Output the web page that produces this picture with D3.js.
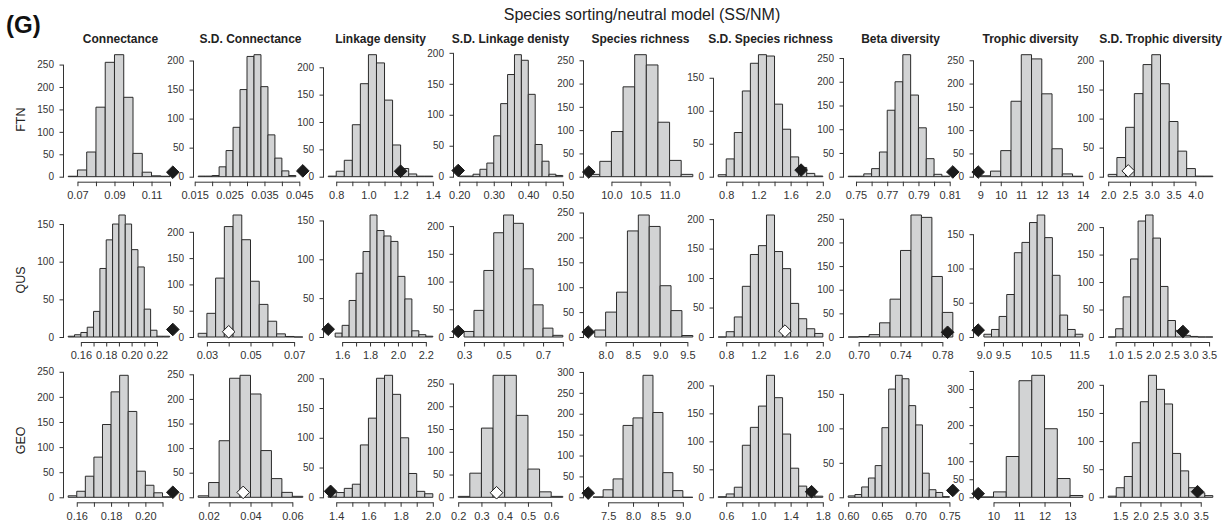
<!DOCTYPE html>
<html>
<head>
<meta charset="utf-8">
<script src="https://cdn.jsdelivr.net/npm/d3@7"></script>
<style>
  body { margin: 0; background: #fff; }
  svg { display: block; font-family: "Liberation Sans", Arial, sans-serif; }
</style>
</head>
<body>
<svg id="chart" width="1224" height="525"></svg>
<script>
// ---- chart values ----
var rowNames = ["FTN", "QUS", "GEO"];
var metricNames = ["Connectance", "S.D. Connectance", "Linkage density", "S.D. Linkage denisty",
    "Species richness", "S.D. Species richness", "Beta diversity", "Trophic diversity", "S.D. Trophic diversity"];

// first break and bin width of each null histogram (rows FTN, QUS, GEO)
var binStart = [
    [0.065, 0.016, 0.75, 0.20, 9.6, 0.7, 0.745, 9.0, 2.0],
    [0.150, 0.026, 1.55, 0.30, 7.8, 0.7, 0.69, 9.0, 0.8],
    [0.155, 0.015, 1.35, 0.20, 7.2, 0.5, 0.60, 9.5, 1.2]
];
var binWidth = [
    [0.005, 0.002, 0.05, 0.02, 0.2, 0.1, 0.005, 0.5, 0.2],
    [0.005, 0.004, 0.05, 0.05, 0.2, 0.1, 0.01, 0.2, 0.2],
    [0.005, 0.005, 0.05, 0.05, 0.2, 0.1, 0.01, 0.5, 0.2]
];

// simulated frequencies
var countsFTN = [
    [1, 15, 55, 155, 255, 272, 177, 52, 10, 2, 1],
    [1, 1, 2, 17, 45, 85, 150, 207, 210, 155, 72, 32, 10, 2],
    [1, 10, 30, 95, 170, 223, 208, 140, 58, 15, 5, 1, 1],
    [1, 1, 4, 12, 22, 66, 118, 165, 197, 188, 133, 52, 25, 4, 2],
    [5, 33, 97, 193, 262, 240, 117, 35, 5],
    [3, 27, 67, 130, 172, 185, 183, 110, 72, 30, 14, 5, 1],
    [1, 1, 6, 17, 52, 140, 200, 257, 172, 103, 38, 5, 1],
    [2, 12, 56, 162, 262, 253, 178, 60, 6, 1],
    [4, 33, 85, 143, 193, 210, 160, 95, 44, 14, 1, 1]
];
var countsQUS = [
    [1, 3, 6, 13, 34, 91, 129, 150, 162, 150, 116, 93, 37, 9, 1, 1],
    [7, 45, 112, 210, 232, 185, 106, 62, 30, 6, 1, 0],
    [5, 15, 47, 82, 110, 157, 137, 130, 123, 78, 49, 8, 3, 1],
    [10, 48, 120, 188, 220, 205, 123, 58, 16, 3],
    [14, 50, 90, 213, 245, 222, 103, 53, 3],
    [0, 9, 34, 86, 140, 155, 207, 145, 116, 57, 31, 14, 6],
    [0, 1, 5, 30, 80, 183, 258, 253, 128, 52],
    [4, 11, 30, 62, 123, 138, 167, 178, 145, 90, 32, 11, 4],
    [0, 15, 73, 142, 211, 222, 180, 92, 30, 12, 3, 1, 0, 0]
];
var countsGEO = [
    [3, 12, 42, 80, 145, 210, 243, 171, 52, 24, 9, 1],
    [3, 30, 115, 242, 248, 210, 95, 38, 10, 2],
    [2, 8, 15, 22, 88, 133, 200, 205, 173, 100, 40, 10, 6],
    [2, 53, 152, 268, 268, 180, 62, 12, 2],
    [1, 18, 44, 172, 190, 292, 203, 59, 16, 0],
    [1, 6, 18, 93, 125, 163, 218, 178, 113, 52, 20, 15, 2],
    [2, 4, 15, 28, 46, 101, 157, 177, 172, 133, 105, 35, 11, 7, 1],
    [1, 15, 113, 323, 338, 190, 52, 5],
    [2, 17, 37, 97, 170, 217, 192, 166, 78, 47, 17, 8, 3]
];

// observed metric of the real web, and whether it falls inside the null range (open symbol)
var observed = [
    [0.1215, 0.046, 1.2, 0.197, 9.61, 1.73, 0.812, 8.9, 2.46],
    [0.2325, 0.040, 1.50, 0.27, 7.68, 1.53, 0.785, 8.85, 2.8],
    [0.216, 0.0365, 1.365, 0.365, 7.1, 1.66, 0.755, 9.4, 3.42]
];
var observedOpen = [
    [false, false, false, false, false, false, false, false, true],
    [false, true, false, false, false, true, false, false, false],
    [false, true, false, true, false, false, false, false, false]
];

// x axis ticks and the tick labels that are printed
var xTicks = [
    [[0.07, 0.08, 0.09, 0.10, 0.11, 0.12], [0.015, 0.020, 0.025, 0.030, 0.035, 0.040, 0.045],
     [0.8, 0.9, 1.0, 1.1, 1.2, 1.3, 1.4], [0.20, 0.25, 0.30, 0.35, 0.40, 0.45, 0.50],
     [10.0, 10.5, 11.0], [0.8, 1.0, 1.2, 1.4, 1.6, 1.8, 2.0],
     [0.75, 0.76, 0.77, 0.78, 0.79, 0.80, 0.81], [9, 10, 11, 12, 13, 14], [2.0, 2.5, 3.0, 3.5, 4.0]],
    [[0.16, 0.17, 0.18, 0.19, 0.20, 0.21, 0.22], [0.03, 0.04, 0.05, 0.06, 0.07],
     [1.6, 1.7, 1.8, 1.9, 2.0, 2.1, 2.2], [0.3, 0.4, 0.5, 0.6, 0.7, 0.8],
     [8.0, 8.5, 9.0, 9.5], [0.8, 1.0, 1.2, 1.4, 1.6, 1.8, 2.0],
     [0.70, 0.72, 0.74, 0.76, 0.78], [9.0, 9.5, 10.0, 10.5, 11.0, 11.5], [1.0, 1.5, 2.0, 2.5, 3.0, 3.5]],
    [[0.16, 0.17, 0.18, 0.19, 0.20, 0.21], [0.02, 0.03, 0.04, 0.05, 0.06],
     [1.4, 1.5, 1.6, 1.7, 1.8, 1.9, 2.0], [0.2, 0.3, 0.4, 0.5, 0.6],
     [7.5, 8.0, 8.5, 9.0], [0.6, 0.8, 1.0, 1.2, 1.4, 1.6, 1.8],
     [0.60, 0.65, 0.70, 0.75], [10, 11, 12, 13], [1.5, 2.0, 2.5, 3.0, 3.5]]
];
var xLabels = [
    [["0.07", "0.09", "0.11"], ["0.015", "0.025", "0.035", "0.045"], ["0.8", "1.0", "1.2", "1.4"],
     ["0.20", "0.30", "0.40", "0.50"], ["10.0", "10.5", "11.0"], ["0.8", "1.2", "1.6", "2.0"],
     ["0.75", "0.77", "0.79", "0.81"], ["9", "10", "11", "12", "13", "14"], ["2.0", "2.5", "3.0", "3.5", "4.0"]],
    [["0.16", "0.18", "0.20", "0.22"], ["0.03", "0.05", "0.07"], ["1.6", "1.8", "2.0", "2.2"],
     ["0.3", "0.5", "0.7"], ["8.0", "8.5", "9.0", "9.5"], ["0.8", "1.2", "1.6", "2.0"],
     ["0.70", "0.74", "0.78"], ["9.0", "9.5", "10.5", "11.5"], ["1.0", "1.5", "2.0", "2.5", "3.0", "3.5"]],
    [["0.16", "0.18", "0.20"], ["0.02", "0.04", "0.06"], ["1.4", "1.6", "1.8", "2.0"],
     ["0.2", "0.3", "0.4", "0.5", "0.6"], ["7.5", "8.0", "8.5", "9.0"], ["0.6", "1.0", "1.4", "1.8"],
     ["0.60", "0.65", "0.70", "0.75"], ["10", "11", "12", "13"], ["1.5", "2.0", "2.5", "3.0", "3.5"]]
];
var yTickStep = 50;
var yHiddenLabels = [[2, 7, 150], [2, 7, 250], [2, 7, 350]];   // row, column, value

var panelTitle = "Species sorting/neutral model (SS/NM)";
var panelTag = "(G)";

// ---- layout ----
var colStep = 130, plotLeft = 64, plotWidth = 113;
var firstBase = 176.7, rowStep = 160.3, barSpan = 122;
var axisGap = 5, tickLen = 4.5;
var diamond = 6.3;

var svg = d3.select("#chart");
var countsByRow = [countsFTN, countsQUS, countsGEO];
var key = function(v) { return (+v).toFixed(6); };

svg.append("text")
    .attr("x", 642).attr("y", 20)
    .attr("text-anchor", "middle")
    .style("font-size", "16px").style("fill", "#222")
    .text(panelTitle);

svg.append("text")
    .attr("x", 6).attr("y", 33)
    .style("font-size", "24px").style("font-weight", "bold").style("fill", "#111")
    .text(panelTag);

metricNames.forEach(function(metric, c) {
    svg.append("text")
        .attr("x", plotLeft + c * colStep + plotWidth / 2).attr("y", 43)
        .attr("text-anchor", "middle")
        .style("font-size", "12px").style("font-weight", "bold").style("fill", "#222")
        .text(metric);
});

rowNames.forEach(function(rowName, r) {
    var base = firstBase + r * rowStep;

    svg.append("text")
        .attr("transform", "translate(25," + (base - 57) + ") rotate(-90)")
        .attr("text-anchor", "middle")
        .style("font-size", "12.5px").style("fill", "#222")
        .text(rowName);

    metricNames.forEach(function(metric, c) {
        var counts = countsByRow[r][c];
        var breaks = d3.range(counts.length + 1).map(function(i) { return binStart[r][c] + i * binWidth[r][c]; });
        var obs = observed[r][c];
        var lo = Math.min(breaks[0], obs), hi = Math.max(breaks[breaks.length - 1], obs);
        var pad = (hi - lo) * 0.04;
        var left = plotLeft + c * colStep;

        var x = d3.scaleLinear().domain([lo - pad, hi + pad]).range([left, left + plotWidth]);
        var ymax = d3.max(counts);
        var y = d3.scaleLinear().domain([0, ymax]).range([base, base - barSpan]);

        var g = svg.append("g").attr("class", "panel");

        // histogram bars (zero bins collapse into a line on the baseline)
        g.selectAll("path.bar")
            .data(counts)
            .enter().append("path")
            .attr("class", "bar")
            .attr("d", function(d, i) {
                var x0 = x(breaks[i]), x1 = x(breaks[i + 1]);
                return "M" + x0 + "," + y(0) + "V" + y(d) + "H" + x1 + "V" + y(0) + "Z";
            })
            .style("fill", "#d2d3d4")
            .style("stroke", "#2b2b2b")
            .style("stroke-width", 1);

        // x axis, R style: line only between the outer ticks
        var shown = new Map(xLabels[r][c].map(function(s) { return [key(s), s]; }));
        var ticks = xTicks[r][c];
        var xa = g.append("g")
            .attr("transform", "translate(0," + (base + axisGap) + ")")
            .call(d3.axisBottom(x).tickValues(ticks).tickSize(tickLen).tickSizeOuter(0).tickPadding(5)
                .tickFormat(function(d) { return shown.get(key(d)) || ""; }));
        xa.select(".domain").attr("d", "M" + (x(ticks[0]) + 0.5) + ",0.5H" + (x(ticks[ticks.length - 1]) + 0.5));

        // y axis
        var yt = d3.range(0, ymax * 1.04 + 1e-9, yTickStep);
        var hidden = yHiddenLabels.filter(function(h) { return h[0] === r && h[1] === c; })
            .map(function(h) { return h[2]; });
        var ya = g.append("g")
            .attr("transform", "translate(" + left + ",0)")
            .call(d3.axisLeft(y).tickValues(yt).tickSize(tickLen).tickSizeOuter(0).tickPadding(5.5)
                .tickFormat(function(d) { return hidden.indexOf(d) >= 0 ? "" : d; }));
        ya.select(".domain").attr("d", "M-0.5," + (y(0) + 0.5) + "V" + (y(yt[yt.length - 1]) + 0.5));

        [xa, ya].forEach(function(a) {
            a.attr("font-family", null);
            a.selectAll("path, line").style("stroke", "#333");
            a.selectAll("text").style("fill", "#333");
        });
        xa.selectAll("text").style("font-size", "11px");
        ya.selectAll("text").style("font-size", "10px");

        // observed value
        g.append("path")
            .datum(obs)
            .attr("transform", function(d) { return "translate(" + x(d) + "," + y(10) + ")"; })
            .attr("d", "M0," + (-diamond) + "L" + diamond + ",0L0," + diamond + "L" + (-diamond) + ",0Z")
            .style("fill", observedOpen[r][c] ? "#fff" : "#1b1b1b")
            .style("stroke", "#1b1b1b")
            .style("stroke-width", 1);
    });
});
</script>
</body>
</html>
